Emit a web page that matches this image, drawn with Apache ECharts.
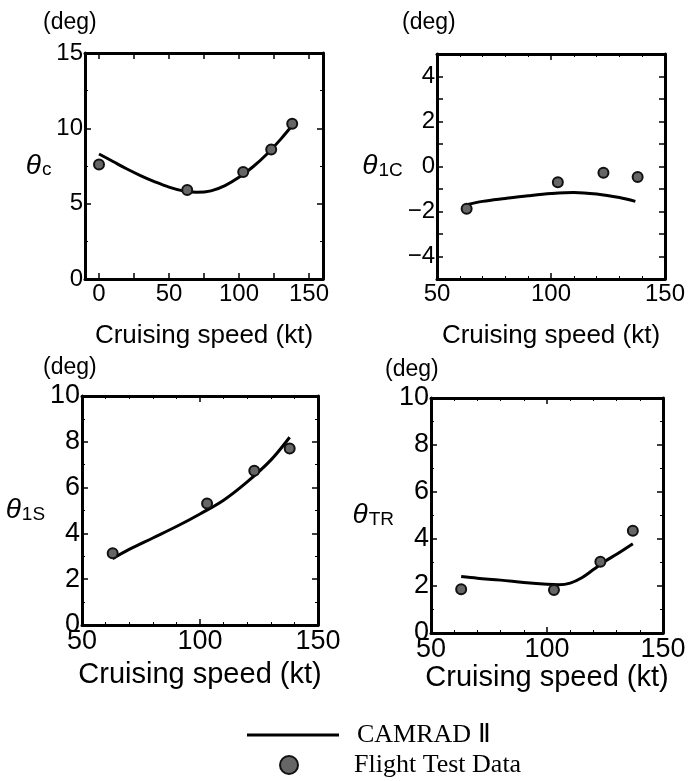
<!DOCTYPE html>
<html>
<head>
<meta charset="utf-8">
<script src="https://cdn.jsdelivr.net/npm/echarts@6/dist/echarts.min.js"></script>
<style>
html,body{margin:0;padding:0;background:#fff;}
#chart{width:700px;height:781px;}
</style>
</head>
<body>
<div id="chart"></div>
<script>
// ---- Data ----
// Panel 1: theta_c
const cLineSpeed = [0, 10, 20, 30, 40, 50, 60, 70, 80, 90, 100, 110, 120, 130, 139];
const cLineValue = [8.3, 7.8, 7.3, 6.85, 6.45, 6.1, 5.85, 5.75, 5.85, 6.2, 6.75, 7.45, 8.3, 9.3, 10.3];
const cTestSpeed = [0, 63, 103, 123, 138];
const cTestValue = [7.6, 5.9, 7.1, 8.6, 10.3];
// Panel 2: theta_1C
const c1LineSpeed = [63, 70, 80, 90, 100, 110, 120, 130, 137];
const c1LineValue = [-1.7, -1.55, -1.42, -1.3, -1.2, -1.15, -1.22, -1.38, -1.55];
const c1TestSpeed = [63, 103, 123, 138];
const c1TestValue = [-1.88, -0.7, -0.28, -0.47];
// Panel 3: theta_1S
const s1LineSpeed = [63, 70, 80, 90, 100, 110, 120, 130, 138];
const s1LineValue = [2.9, 3.3, 3.8, 4.3, 4.85, 5.45, 6.25, 7.2, 8.2];
const s1TestSpeed = [63, 103, 123, 138];
const s1TestValue = [3.13, 5.31, 6.74, 7.71];
// Panel 4: theta_TR
const trLineSpeed = [63, 70, 80, 90, 100, 105, 110, 115, 120, 125, 130, 137];
const trLineValue = [2.4, 2.33, 2.25, 2.15, 2.07, 2.05, 2.12, 2.35, 2.7, 3.05, 3.35, 3.8];
const trTestSpeed = [63, 103, 123, 137];
const trTestValue = [1.86, 1.83, 3.03, 4.35];

// Tick labels
const cXLabels = [0, 50, 100, 150];
const cXTicks = [0, 25, 50, 75, 100, 125, 150];
const c1YLabels = [-4, -2, 0, 2, 4];

const xName = 'Cruising speed (kt)';
const yUnit = '(deg)';
const lineName = 'CAMRAD \u2161';
const testName = 'Flight Test Data';

function pairs(xs, ys) { return xs.map((x, i) => [x, ys[i]]); }

const SANS = 'Liberation Sans';
const BLACK = '#000';

const grids = [
  {left: 85, top: 53, width: 238, height: 226},
  {left: 437, top: 54, width: 228, height: 225},
  {left: 82, top: 396, width: 236, height: 229},
  {left: 431, top: 398, width: 232, height: 235}
];

const panels = [
  {xmin: -10, xmax: 160, xint: 10, xLabels: cXLabels, xTicks: cXTicks, xMinor: 0,
   ymin: 0, ymax: 15, yint: 5, yMinor: 2, tickFont: 24, nameFont: 26, nameGap: 44,
   sym: 'c', yNameGap: 33},
  {xmin: 50, xmax: 150, xint: 50, xMinor: 5,
   ymin: -5, ymax: 5, yint: 1, yLabels: c1YLabels, yMinor: 0, tickFont: 24, nameFont: 26, nameGap: 44,
   sym: '1C', yNameGap: 25},
  {xmin: 50, xmax: 150, xint: 50, xMinor: 5,
   ymin: 0, ymax: 10, yint: 2, yMinor: 2, tickFont: 27, nameFont: 29, nameGap: 35,
   sym: '1S', yNameGap: 25},
  {xmin: 50, xmax: 150, xint: 50, xMinor: 5,
   ymin: 0, ymax: 10, yint: 2, yMinor: 2, tickFont: 27, nameFont: 29, nameGap: 28,
   sym: 'TR', yNameGap: 28}
];

const axisLine = {show: true, onZero: false, lineStyle: {color: BLACK, width: 3}};
const minus = v => (v < 0 ? '\u2212' + Math.abs(v) : String(v));

const xAxes = [], yAxes = [];
panels.forEach((p, i) => {
  const tick = {inside: true, length: 6, lineStyle: {color: BLACK, width: 1.5}};
  if (p.xTicks) tick.customValues = p.xTicks;
  const minorX = p.xMinor ? {show: true, splitNumber: p.xMinor, length: 3, lineStyle: {color: BLACK, width: 1}} : {show: false};
  const labelX = {color: BLACK, fontSize: p.tickFont, fontFamily: SANS, margin: 3};
  if (p.xLabels) labelX.customValues = p.xLabels;
  xAxes.push({
    type: 'value', gridIndex: i, position: 'bottom', min: p.xmin, max: p.xmax, interval: p.xint,
    axisLine: axisLine, axisTick: tick, minorTick: minorX, axisLabel: labelX,
    splitLine: {show: false},
    name: xName, nameLocation: 'middle', nameGap: p.nameGap,
    nameTextStyle: {color: BLACK, fontSize: p.nameFont, fontFamily: SANS}
  });
  xAxes.push({
    type: 'value', gridIndex: i, position: 'top', min: p.xmin, max: p.xmax, interval: p.xint,
    axisLine: axisLine, axisTick: tick, minorTick: minorX, axisLabel: {show: false},
    splitLine: {show: false}
  });
  const tickY = {inside: true, length: 6, lineStyle: {color: BLACK, width: 1.5}};
  const minorY = p.yMinor ? {show: true, splitNumber: p.yMinor, length: 3, lineStyle: {color: BLACK, width: 1}} : {show: false};
  const labelY = {color: BLACK, fontSize: p.tickFont, fontFamily: SANS, margin: 2, formatter: minus};
  if (p.yLabels) labelY.customValues = p.yLabels;
  yAxes.push({
    type: 'value', gridIndex: i, position: 'left', min: p.ymin, max: p.ymax, interval: p.yint,
    axisLine: axisLine, axisTick: tickY, minorTick: minorY, axisLabel: labelY,
    splitLine: {show: false},
    name: '{t|\u03B8}{s|' + p.sym + '}', nameLocation: 'middle', nameRotate: 0, nameGap: p.yNameGap,
    nameTextStyle: {
      align: 'right',
      rich: {
        t: {fontSize: 28, fontStyle: 'italic', fontFamily: SANS, color: BLACK},
        s: {fontSize: 19, fontFamily: SANS, color: BLACK, padding: [8, 0, 0, 1]}
      }
    }
  });
  yAxes.push({
    type: 'value', gridIndex: i, position: 'right', min: p.ymin, max: p.ymax, interval: p.yint,
    axisLine: axisLine, axisTick: tickY, minorTick: minorY, axisLabel: {show: false},
    splitLine: {show: false}
  });
});

const lineSets = [
  [cLineSpeed, cLineValue], [c1LineSpeed, c1LineValue], [s1LineSpeed, s1LineValue], [trLineSpeed, trLineValue]
];
const testSets = [
  [cTestSpeed, cTestValue], [c1TestSpeed, c1TestValue], [s1TestSpeed, s1TestValue], [trTestSpeed, trTestValue]
];

const series = [];
lineSets.forEach((d, i) => {
  series.push({
    name: lineName, type: 'line', xAxisIndex: i * 2, yAxisIndex: i * 2,
    data: pairs(d[0], d[1]), smooth: 0.35, symbol: 'none',
    lineStyle: {color: BLACK, width: 3}, itemStyle: {color: BLACK}, z: 2
  });
});
testSets.forEach((d, i) => {
  series.push({
    name: testName, type: 'scatter', xAxisIndex: i * 2, yAxisIndex: i * 2,
    data: pairs(d[0], d[1]), symbol: 'circle', symbolSize: 10,
    itemStyle: {color: '#666666', borderColor: '#111', borderWidth: 2, opacity: 1}, z: 3
  });
});

const titlePos = [[43, 11], [402, 11], [43, 356], [385, 358]];
const titles = titlePos.map(p => ({
  text: yUnit, left: p[0], top: p[1], padding: 0,
  textStyle: {fontSize: 23, fontWeight: 'normal', fontFamily: SANS, color: BLACK}
}));

const option = {
  animation: false,
  backgroundColor: '#fff',
  title: titles,
  grid: grids,
  xAxis: xAxes,
  yAxis: yAxes,
  legend: [
    {data: [{name: lineName, icon: 'rect'}], left: 247, top: 722, itemWidth: 92, itemHeight: 3, padding: 0,
     selectedMode: false, itemStyle: {color: BLACK},
     textStyle: {fontFamily: 'Liberation Serif', fontSize: 26, color: BLACK, padding: [0, 0, 0, 13]}},
    {data: [{name: testName, icon: 'circle'}], left: 279, top: 752, itemWidth: 18, itemHeight: 18, padding: 0,
     selectedMode: false,
     textStyle: {fontFamily: 'Liberation Serif', fontSize: 26, color: BLACK, padding: [0, 0, 0, 51]}}
  ],
  series: series
};

const chart = echarts.init(document.getElementById('chart'), null, {renderer: 'canvas'});
chart.setOption(option);
</script>
</body>
</html>
